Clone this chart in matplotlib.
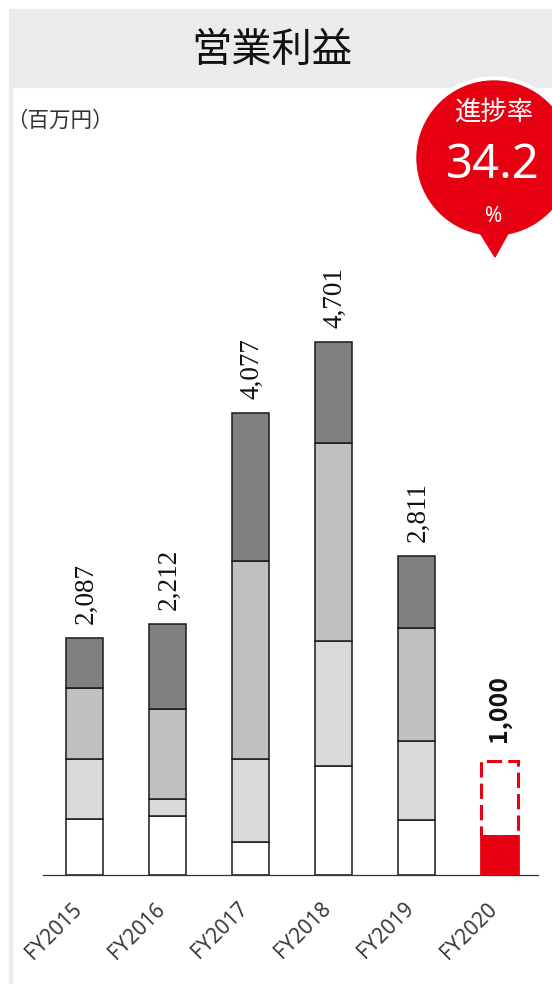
import matplotlib
matplotlib.use("Agg")
import matplotlib.pyplot as plt
from matplotlib.patches import Rectangle, Circle, Polygon
from matplotlib.transforms import ScaledTranslation

# Operating profit by quarter (million yen)
years = ["FY2015", "FY2016", "FY2017", "FY2018", "FY2019", "FY2020"]
q1 = [487, 519, 289, 960, 481]
q2 = [535, 144, 730, 1098, 697]
q3 = [621, 800, 1747, 1752, 994]
q4 = [444, 749, 1311, 891, 639]
totals = [2087, 2212, 4077, 4701, 2811]
fy2020_forecast = 1000
fy2020_progress = 34.2  # percent of forecast achieved
fy2020_actual = fy2020_forecast * fy2020_progress / 100

title = "営業利益"
unit_label = "（百万円）"
badge_caption = "進捗率"

W, H = 552, 984
DPI = 100
RED = "#e60012"
HEADER_GRAY = "#ebebeb"
seg_colors = ["#ffffff", "#d9d9d9", "#c0c0c0", "#808080"]

cjk = ["Noto Sans CJK JP", "DejaVu Sans"]

fig = plt.figure(figsize=(W / DPI, H / DPI), dpi=DPI)
fig.patch.set_facecolor("white")

# ---- bar chart area (pixel layout) ----
x0, x1 = 43, 538          # axis line extent
base_y, top_y = 874.5, 95  # baseline and top, pixels from top
ax = fig.add_axes([x0 / W, (H - base_y) / H, (x1 - x0) / W, (base_y - top_y) / H])
ax.set_xlim(-0.5, 5.47)
ax.set_ylim(0, 6880)
ax.patch.set_alpha(0)

bw = 0.446
xs = list(range(len(years)))
bottoms = [0] * len(q1)
for seg, col in zip([q1, q2, q3, q4], seg_colors):
    ax.bar(xs[:5], seg, bw, bottom=bottoms, color=col, edgecolor="#1a1a1a",
           linewidth=1.1, zorder=2)
    bottoms = [b + v for b, v in zip(bottoms, seg)]

# FY2020: achieved part solid, remaining forecast dashed
ax.bar(xs[5], fy2020_actual, bw, color=RED, edgecolor=RED, linewidth=2.0, zorder=3)
ax.bar(xs[5], fy2020_forecast - fy2020_actual, bw, bottom=fy2020_actual,
       fill=False, edgecolor=RED, linewidth=2.2, linestyle=(0, (5, 2)), zorder=3)

for x, t in zip(xs[:5], totals):
    ax.annotate(f"{t:,}", (x, t), xytext=(1.5, 10), textcoords="offset points",
                rotation=90, ha="center", va="bottom", fontsize=19.5,
                family="Liberation Serif", color="#111111")
ax.annotate(f"{fy2020_forecast:,}", (xs[5], fy2020_forecast), xytext=(0, 14),
            textcoords="offset points", rotation=90, ha="center", va="bottom",
            fontsize=18, family=cjk, weight="bold", color="#111111")

for s in ["top", "left", "right"]:
    ax.spines[s].set_visible(False)
ax.spines["bottom"].set_color("#333333")
ax.spines["bottom"].set_linewidth(0.9)
ax.set_yticks([])
ax.set_xticks(xs)
ax.set_xticklabels(years, rotation=45, ha="right", va="top", rotation_mode="anchor",
                   fontsize=15, family="Noto Sans", color="#3a3a3a")
ax.tick_params(axis="x", length=0, pad=18)
shift = ScaledTranslation(-13 / DPI, 1 / DPI, fig.dpi_scale_trans)
for lbl in ax.get_xticklabels():
    lbl.set_transform(lbl.get_transform() + shift)

# ---- decorations overlay (pixel coordinates, y down) ----
ov = fig.add_axes([0, 0, 1, 1], zorder=5)
ov.set_xlim(0, W)
ov.set_ylim(H, 0)
ov.axis("off")
ov.patch.set_alpha(0)

ov.add_patch(Rectangle((9, 9), W - 9, 78, color=HEADER_GRAY, zorder=0))
ov.add_patch(Rectangle((9, 87), 3, H - 87, color=HEADER_GRAY, zorder=0))
ov.text(271.5, 50, title, ha="center", va="center", fontsize=29, family=cjk,
        color="#111111")
ov.text(6, 121, unit_label, ha="left", va="center", fontsize=15.5, family=cjk,
        color="#333333")

# progress badge
cx, cy, r = 494, 158, 77
ov.add_patch(Circle((cx, cy), r + 4, color="white", zorder=1))
ov.add_patch(Polygon([(cx - 17, cy + 70), (cx + 17, cy + 70), (cx + 1, 257)],
                     closed=True, color=RED, zorder=2))
ov.add_patch(Circle((cx, cy), r, color=RED, zorder=2))
ov.text(cx, 112, badge_caption, ha="center", va="center", fontsize=19,
        family=cjk, color="white", zorder=3)
ov.text(cx - 1, 165, f"{fy2020_progress:.1f}", ha="center", va="center",
        fontsize=34, family="Noto Sans", color="white", zorder=3)
ov.text(cx, 217, "%", ha="center", va="center", fontsize=15,
        family="Noto Sans", color="white", zorder=3)

fig.savefig("out.png", dpi=DPI)
